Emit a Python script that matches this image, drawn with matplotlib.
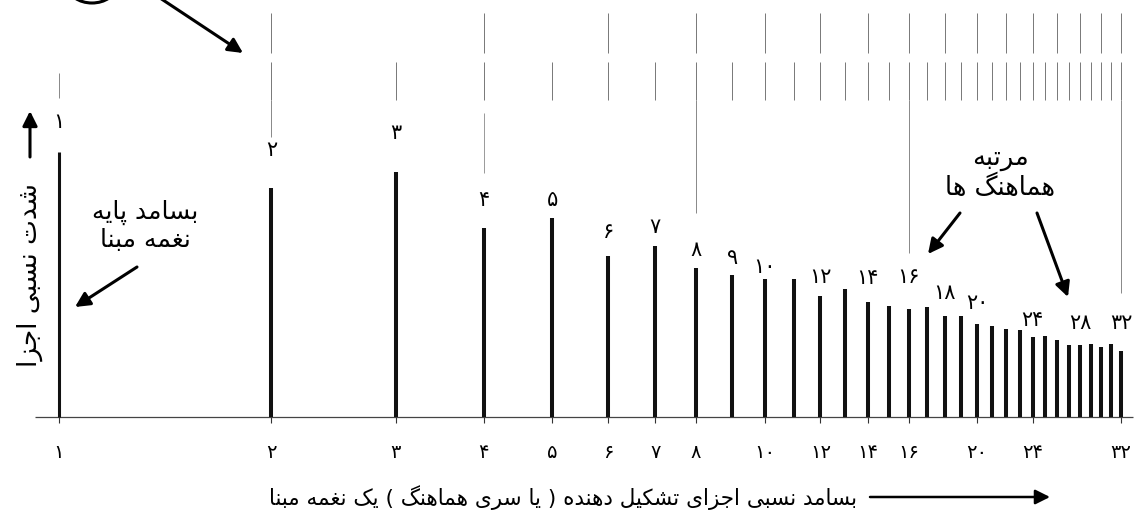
import numpy as np
import matplotlib
matplotlib.use("Agg")
from matplotlib import pyplot as plt
from matplotlib.patches import Ellipse

plt.rcParams['font.family'] = ['DejaVu Sans']

## Data ##
# harmonic numbers and their relative intensity
harmonics = list(range(1, 33))
intensity = [265, 229, 245, 189, 199, 161, 171, 149, 142, 138,
             138, 121, 128, 115, 111, 108, 110, 101, 101, 93,
             91, 88, 87, 80, 81, 77, 72, 72, 73, 70, 73, 66]

# harmonics that carry a number above the bar, and the gap to the label
labelled = [1, 2, 3, 4, 5, 6, 7, 8, 9, 10, 12, 14, 16, 18, 20, 24, 28, 32]
label_gap = [30, 38, 39, 28, 18, 24, 19, 18, 17, 12, 19, 24, 32, 23, 21, 17, 22, 28]

# tick marks on the frequency axis
tick_pos = [1, 2, 3, 4, 5, 6, 7, 8, 10, 12, 14, 16, 20, 24, 32]

# faint guide lines bleeding in from the figure above
guide_even = list(range(2, 33, 2))
guide_all = list(range(1, 33))
guide_octave = [2, 8, 16, 32]
guide_octave_end = [280, 204, 164, 124]

fa_digits = str.maketrans('0123456789', '۰۱۲۳۴۵۶۷۸۹')

# texts
ylabel_txt = 'شدت نسبی اجزا'
xlabel_txt = 'بسامد نسبی اجزای تشکیل دهنده ( یا سری هماهنگ ) یک نغمه مبنا'
fund_txt = ['بسامد پایه', 'نغمه مبنا']
order_txt = ['مرتبه', 'هماهنگ ها']


# very small Persian shaper: presentation forms + right-to-left order
R_JOIN = {'ا': (0xFE8D, 0xFE8E), 'د': (0xFEA9, 0xFEAA), 'ذ': (0xFEAB, 0xFEAC),
          'ر': (0xFEAD, 0xFEAE), 'ز': (0xFEAF, 0xFEB0), 'و': (0xFEED, 0xFEEE),
          'ژ': (0xFB8A, 0xFB8B)}
D_JOIN = {'ب': (0xFE8F, 0xFE90, 0xFE91, 0xFE92), 'پ': (0xFB56, 0xFB57, 0xFB58, 0xFB59),
          'ت': (0xFE95, 0xFE96, 0xFE97, 0xFE98), 'ج': (0xFE9D, 0xFE9E, 0xFE9F, 0xFEA0),
          'س': (0xFEB1, 0xFEB2, 0xFEB3, 0xFEB4), 'ش': (0xFEB5, 0xFEB6, 0xFEB7, 0xFEB8),
          'غ': (0xFECD, 0xFECE, 0xFECF, 0xFED0), 'ک': (0xFB8E, 0xFB8F, 0xFB90, 0xFB91),
          'گ': (0xFB92, 0xFB93, 0xFB94, 0xFB95), 'ل': (0xFEDD, 0xFEDE, 0xFEDF, 0xFEE0),
          'م': (0xFEE1, 0xFEE2, 0xFEE3, 0xFEE4), 'ن': (0xFEE5, 0xFEE6, 0xFEE7, 0xFEE8),
          'ه': (0xFEE9, 0xFEEA, 0xFEEB, 0xFEEC), 'ی': (0xFBFC, 0xFBFD, 0xFBFE, 0xFBFF)}


def fa(text):
    out = []
    for i, ch in enumerate(text):
        prev = text[i - 1] if i > 0 else ''
        nxt = text[i + 1] if i + 1 < len(text) else ''
        joined_prev = prev in D_JOIN
        if ch in D_JOIN:
            joined_next = nxt in D_JOIN or nxt in R_JOIN
            k = {(0, 0): 0, (1, 0): 1, (0, 1): 2, (1, 1): 3}[(joined_prev, joined_next)]
            out.append(chr(D_JOIN[ch][k]))
        elif ch in R_JOIN:
            out.append(chr(R_JOIN[ch][1 if joined_prev else 0]))
        else:
            out.append(ch)
    vis = ''.join(reversed(out))
    return vis.translate(str.maketrans('()', ')('))


## Figure ##
W, H = 1142, 513
fig = plt.figure(figsize=(W / 100, H / 100), dpi=100)
ax = fig.add_axes([0, 0, 1, 1])
ax.set_xscale('log', base=2)
ax.set_xlim(0.825, 34.27)
ax.set_ylim(-96, 417)
ax.axis('off')


def px(x, y):
    return (x / W, 1 - y / H)


# faint guides at the top
ax.vlines(guide_even, 364, 404, color='#777777', lw=0.7)
ax.vlines(guide_all[1:], 317, 355, color='#777777', lw=0.7)
ax.vlines(guide_all[0], 319, 344, color='#888888', lw=0.7)
ax.vlines(guide_octave, 317, guide_octave_end, color='#888888', lw=0.7)
ax.vlines(4, 244, 304, color='#999999', lw=0.7)

# baseline + ticks
ax.hlines(0, 0.925, 33.3, color='#444444', lw=0.9)
ax.vlines(tick_pos, -6, 0, color='#333333', lw=0.8)
for t in tick_pos:
    ax.text(t, -35, str(t).translate(fa_digits), ha='center', va='center', fontsize=14)

# the harmonic bars
ax.vlines(harmonics[1:], 0, intensity[1:], color='#111111', lw=2.9)
ax.vlines(harmonics[0], 0, intensity[0], color='#111111', lw=2.2)

for n, g in zip(labelled, label_gap):
    ax.text(n, intensity[n - 1] + g, str(n).translate(fa_digits),
            ha='center', va='center', fontsize=15)

# annotations
fig.text(*px(30, 275), fa(ylabel_txt), rotation=90, ha='center', va='center', fontsize=19)
fig.text(*px(145, 212), fa(fund_txt[0]), ha='center', va='center', fontsize=18)
fig.text(*px(145, 240), fa(fund_txt[1]), ha='center', va='center', fontsize=18)
fig.text(*px(1000, 158), fa(order_txt[0]), ha='center', va='center', fontsize=18.5)
fig.text(*px(1000, 188), fa(order_txt[1]), ha='center', va='center', fontsize=18.5)
fig.text(*px(857, 498), fa(xlabel_txt), ha='right', va='center', fontsize=15.5)

arrow = dict(arrowstyle='-|>', color='black', lw=2.2, mutation_scale=22, shrinkA=0, shrinkB=0)
for start, end in [((137, 267), (75, 307)), ((960, 213), (928, 254)),
                   ((1037, 213), (1068, 297)), ((160, -2), (243, 53)),
                   ((30, 157), (30, 111))]:
    ax.annotate('', xy=px(*end), xytext=px(*start), xycoords='figure fraction',
                textcoords='figure fraction', arrowprops=arrow)
ax.annotate('', xy=px(1050, 497), xytext=px(870, 497), xycoords='figure fraction',
            textcoords='figure fraction',
            arrowprops=dict(arrowstyle='-|>', color='black', lw=1.8, mutation_scale=22,
                            shrinkA=0, shrinkB=0))

# piece of a circle cut by the top edge
fig.patches.append(Ellipse(px(92, -14), 48 / W, 34 / H, transform=fig.transFigure,
                           fill=False, lw=2.2, color='black'))

plt.savefig('out.png', dpi=100)
